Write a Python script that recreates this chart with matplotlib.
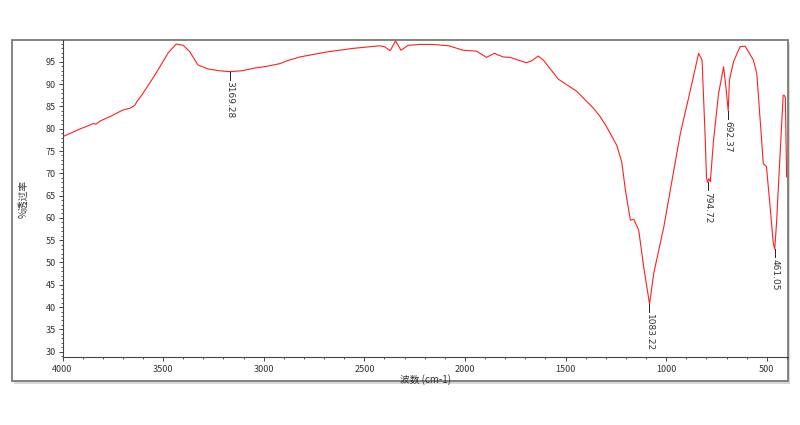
import matplotlib
matplotlib.use('Agg')
import matplotlib.pyplot as plt
from matplotlib.patches import Rectangle
from matplotlib.ticker import MultipleLocator

plt.rcParams['font.family'] = ['Noto Sans CJK SC', 'DejaVu Sans']

# spectrum
wavenumber = [4000, 3960, 3910, 3865, 3845, 3835, 3810, 3760, 3700, 3665, 3648, 3640,
              3630, 3605, 3540, 3475, 3435, 3400, 3368, 3327, 3277, 3220, 3169, 3110,
              3045, 2985, 2920, 2887, 2820, 2690, 2560, 2425, 2400, 2372, 2345, 2318,
              2283, 2225, 2160, 2080, 2010, 1943, 1893, 1855, 1810, 1776, 1695, 1670,
              1636, 1611, 1536, 1445, 1362, 1328, 1296, 1246, 1221, 1204, 1195, 1178,
              1162, 1137, 1112, 1083, 1062, 1012, 971, 930, 880, 839, 822, 806,
              800, 795, 788, 781, 765, 740, 715, 702, 692, 686, 666, 633,
              608, 567, 550, 526, 518, 502, 484, 468, 461, 452, 435, 419,
              414, 408, 402]
transmittance = [78.2, 79.0, 80.0, 80.8, 81.2, 81.0, 81.8, 82.8, 84.2, 84.6, 85.0, 85.3,
                 86.1, 87.6, 92.1, 97.0, 99.0, 98.7, 97.3, 94.3, 93.4, 93.0, 92.8, 93.0,
                 93.6, 94.0, 94.6, 95.2, 96.1, 97.2, 98.0, 98.6, 98.4, 97.5, 99.7, 97.6,
                 98.7, 98.9, 98.9, 98.6, 97.6, 97.4, 96.0, 96.9, 96.1, 96.0, 94.8, 95.2,
                 96.3, 95.4, 91.1, 88.4, 84.6, 82.7, 80.4, 76.3, 72.5, 66.6, 64.0, 59.5,
                 59.7, 57.3, 49.0, 40.7, 47.6, 58.0, 68.5, 78.9, 88.7, 96.9, 95.4, 77.4,
                 69.0, 68.0, 68.8, 68.1, 77.4, 87.9, 93.9, 88.7, 84.0, 90.9, 95.0, 98.4,
                 98.5, 95.4, 92.4, 77.4, 72.2, 71.5, 62.5, 54.3, 53.0, 58.8, 73.7, 87.5,
                 87.5, 87.0, 69.2]

peak_pos = [3169.28, 1083.22, 794.72, 692.37, 461.05]
peak_val = [92.8, 40.7, 68.0, 84.0, 53.0]
peak_labels = ['3169.28', '1083.22', '794.72', '692.37', '461.05']

fig = plt.figure(figsize=(8, 4.25), dpi=100)
W, H = 800, 425

# outer frame with a soft shadow, kept behind the axes
fig.patches.append(Rectangle((14 / W, (425 - 384) / H), (788 - 12) / W, (381 - 40) / H,
                             transform=fig.transFigure, facecolor='#d8d8d8',
                             edgecolor='none', zorder=-3))
fig.patches.append(Rectangle((12 / W, (425 - 381) / H), (788 - 12) / W, (381 - 40) / H,
                             transform=fig.transFigure, facecolor='white',
                             edgecolor='#7a7a72', linewidth=1.3, zorder=-2))

ax = fig.add_axes([62.5 / W, (425 - 357) / H, (788 - 62.5) / W, (357 - 40) / H])
ax.patch.set_alpha(0)
ax.plot(wavenumber, transmittance, color='#ff2020', linewidth=0.8)

for x, y, lab in zip(peak_pos, peak_val, peak_labels):
    ax.plot([x, x], [y, y - 1.8], color='#222222', linewidth=0.7)
    ax.text(x, y - 2.2, lab, rotation=-90, ha='center', va='top',
            fontsize=6.5, color='#333333', family='DejaVu Sans')

ax.set_xlim(4000, 395)
ax.set_ylim(28.8, 99.9)
ax.xaxis.set_major_locator(MultipleLocator(500))
ax.xaxis.set_minor_locator(MultipleLocator(100))
ax.yaxis.set_major_locator(MultipleLocator(5))
ax.yaxis.set_minor_locator(MultipleLocator(1))
ax.set_yticks(range(30, 100, 5))

ax.spines['top'].set_visible(False)
ax.spines['right'].set_visible(False)
ax.spines['left'].set_color('#444444')
ax.spines['bottom'].set_color('#444444')
ax.spines['left'].set_linewidth(0.8)
ax.spines['bottom'].set_linewidth(0.8)
ax.tick_params(axis='both', which='major', labelsize=6.5, labelcolor='#333333',
               color='#444444', length=3, width=0.7)
ax.tick_params(axis='both', which='minor', color='#444444', length=1.5, width=0.6)
ax.tick_params(axis='x', pad=3)
ax.tick_params(axis='y', pad=2)

ax.set_xlabel('波数 (cm-1)', fontsize=7, color='#333333', labelpad=0)
ax.set_ylabel('%透过率', fontsize=7, color='#333333', labelpad=12)

fig.savefig('out.png', dpi=100)
